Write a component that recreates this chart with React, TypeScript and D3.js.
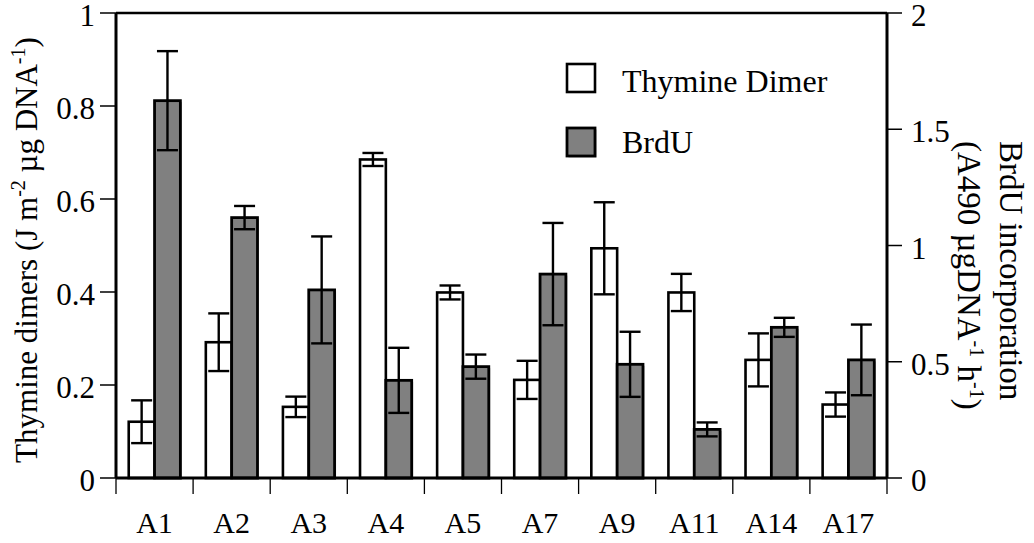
import * as d3 from 'd3';

const categories = ['A1', 'A2', 'A3', 'A4', 'A5', 'A7', 'A9', 'A11', 'A14', 'A17'];
const thymine = [0.121, 0.292, 0.153, 0.685, 0.399, 0.211, 0.494, 0.399, 0.254, 0.158];
const thymineErr = [0.046, 0.062, 0.022, 0.014, 0.015, 0.041, 0.099, 0.040, 0.057, 0.026];
const brdu = [1.623, 1.12, 0.809, 0.42, 0.479, 0.877, 0.489, 0.209, 0.648, 0.508];
const brduErr = [0.213, 0.05, 0.23, 0.14, 0.052, 0.22, 0.14, 0.03, 0.041, 0.152];
const leftTicks = [0, 0.2, 0.4, 0.6, 0.8, 1];
const rightTicks = [0, 0.5, 1, 1.5, 2];
const series = ['Thymine Dimer', 'BrdU'];

const W = 1034;
const H = 543;
const M = { left: 116, right: 887, top: 13, bottom: 478 };
const FONT = "'Liberation Serif', 'DejaVu Serif', serif";
const GRAY = '#808080';

export default function App() {
  const x0 = d3.scaleBand<string>()
    .domain(categories)
    .range([M.left, M.right])
    .paddingInner(0.33)
    .paddingOuter(0.165);
  const x1 = d3.scaleBand<string>().domain(series).range([0, x0.bandwidth()]);
  const yL = d3.scaleLinear().domain([0, 1]).range([M.bottom, M.top]);
  const yR = d3.scaleLinear().domain([0, 2]).range([M.bottom, M.top]);
  const step = x0.step();
  const bw = x1.bandwidth();
  const capW = 21;

  const fmt = (v: number) => (v === 0 ? '0' : String(v));

  return (
    <svg width={W} height={H} style={{ position: 'absolute', left: 0, top: 0, background: '#fff', fontFamily: FONT }}>
      {/* bars */}
      {categories.map((c, i) => {
        const xa = x0(c)! + x1(series[0])!;
        const xb = x0(c)! + x1(series[1])!;
        const ta = yL(thymine[i]);
        const tb = yR(brdu[i]);
        const eaTop = yL(thymine[i] + thymineErr[i]);
        const eaBot = yL(thymine[i] - thymineErr[i]);
        const ebTop = yR(brdu[i] + brduErr[i]);
        const ebBot = yR(brdu[i] - brduErr[i]);
        const ca = xa + bw / 2;
        const cb = xb + bw / 2;
        return (
          <g key={c}>
            <rect x={xa} y={ta} width={bw} height={M.bottom - ta} fill="#fff" stroke="#000" strokeWidth={2.6} />
            <rect x={xb + 1.5} y={tb + 1.5} width={bw} height={M.bottom - tb} fill="#aaa" />
            <rect x={xb} y={tb} width={bw} height={M.bottom - tb} fill={GRAY} stroke="#000" strokeWidth={2.8} />
            <g stroke="#000" strokeWidth={2.4}>
              <line x1={ca} x2={ca} y1={eaTop} y2={eaBot} />
              <line x1={ca - capW / 2} x2={ca + capW / 2} y1={eaTop} y2={eaTop} />
              <line x1={ca - capW / 2} x2={ca + capW / 2} y1={eaBot} y2={eaBot} />
              <line x1={cb} x2={cb} y1={ebTop} y2={ebBot} />
              <line x1={cb - capW / 2} x2={cb + capW / 2} y1={ebTop} y2={ebTop} />
              <line x1={cb - capW / 2} x2={cb + capW / 2} y1={ebBot} y2={ebBot} />
            </g>
          </g>
        );
      })}

      {/* frame */}
      <line x1={M.left} x2={M.right} y1={M.top} y2={M.top} stroke="#000" strokeWidth={2.4} />
      <line x1={M.left} x2={M.right} y1={M.bottom} y2={M.bottom} stroke="#000" strokeWidth={3} />
      <line x1={M.left} x2={M.left} y1={M.top} y2={M.bottom} stroke="#000" strokeWidth={3} />
      <line x1={M.right} x2={M.right} y1={M.top} y2={M.bottom} stroke="#000" strokeWidth={3} />

      {/* left axis */}
      {leftTicks.map(t => (
        <g key={'l' + t}>
          <line x1={M.left - 16} x2={M.left} y1={yL(t)} y2={yL(t)} stroke="#000" strokeWidth={1.5} />
          <text x={95} y={yL(t) + 13} textAnchor="end" fontSize={31}>{fmt(t)}</text>
        </g>
      ))}

      {/* right axis */}
      {rightTicks.map(t => (
        <g key={'r' + t}>
          <line x1={M.right} x2={M.right + 15} y1={yR(t)} y2={yR(t)} stroke="#000" strokeWidth={1.5} />
          <text x={911} y={yR(t) + 13} textAnchor="start" fontSize={31}>{fmt(t)}</text>
        </g>
      ))}

      {/* x axis ticks at group boundaries */}
      {d3.range(categories.length + 1).map(i => {
        const xx = M.left + i * step;
        return <line key={'x' + i} x1={xx} x2={xx} y1={M.bottom} y2={M.bottom + 16} stroke="#000" strokeWidth={1.3} />;
      })}
      {categories.map(c => (
        <text key={'lab' + c} x={x0(c)! + x0.bandwidth() / 2} y={533} textAnchor="middle" fontSize={30}>{c}</text>
      ))}

      {/* left title */}
      <text transform={`translate(37,250) rotate(-90)`} textAnchor="middle" fontSize={31}>
        Thymine dimers (J m<tspan dy={-12} fontSize={20}>-2</tspan><tspan dy={12}> µg DNA</tspan>
        <tspan dy={-12} fontSize={20}>-1</tspan><tspan dy={12}>)</tspan>
      </text>

      {/* right title */}
      <text transform={`translate(1000,141) rotate(90)`} textAnchor="start" fontSize={33}>BrdU incorporation</text>
      <text transform={`translate(958,141) rotate(90)`} textAnchor="start" fontSize={33}>
        (A490 µgDNA<tspan dy={-12} fontSize={20}>-1</tspan><tspan dy={12}> h</tspan>
        <tspan dy={-12} fontSize={20}>-1</tspan><tspan dy={12}>)</tspan>
      </text>

      {/* legend */}
      <rect x={567} y={64} width={28} height={28} fill="#fff" stroke="#000" strokeWidth={2.6} />
      <rect x={568.5} y={129.5} width={28} height={28} fill="#aaa" />
      <rect x={567} y={128} width={28} height={28} fill={GRAY} stroke="#000" strokeWidth={2.8} />
      <text x={622} y={92} fontSize={32}>{series[0]}</text>
      <text x={622} y={153} fontSize={32}>{series[1]}</text>
    </svg>
  );
}
